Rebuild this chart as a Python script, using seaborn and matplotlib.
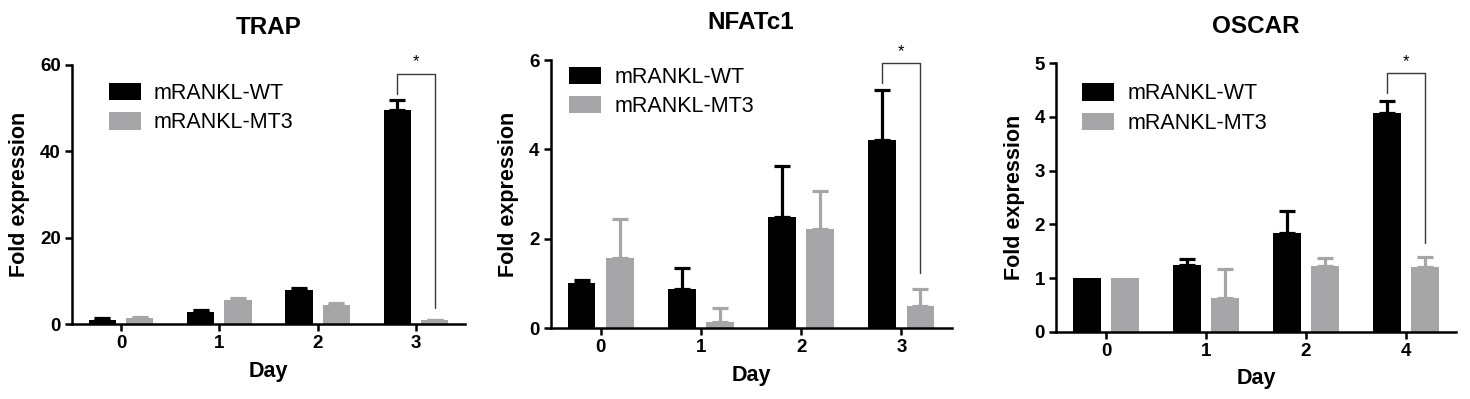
import numpy as np
import pandas as pd
import matplotlib
matplotlib.use("Agg")
import matplotlib.pyplot as plt
import seaborn as sns

# ----------------------------
# DATA
# ----------------------------

groups = ["mRANKL-WT", "mRANKL-MT3"]
colors = ["#000000", "#a6a6a8"]

titles = ["TRAP", "NFATc1", "OSCAR"]

trap_days = ["0", "1", "2", "3"]
trap_wt = [1.1, 2.9, 7.9, 49.7]
trap_wt_err = [0.3, 0.3, 0.6, 2.2]
trap_mt = [1.5, 5.6, 4.5, 0.9]
trap_mt_err = [0.1, 0.5, 0.4, 0.15]

nfat_days = ["0", "1", "2", "3"]
nfat_wt = [1.02, 0.89, 2.50, 4.20]
nfat_wt_err = [0.05, 0.45, 1.14, 1.13]
nfat_mt = [1.58, 0.15, 2.23, 0.50]
nfat_mt_err = [0.86, 0.30, 0.83, 0.37]

oscar_days = ["0", "1", "2", "4"]
oscar_wt = [1.0, 1.24, 1.84, 4.07]
oscar_wt_err = [0.0, 0.11, 0.41, 0.22]
oscar_mt = [1.0, 0.62, 1.23, 1.21]
oscar_mt_err = [0.0, 0.55, 0.14, 0.19]

y_max = [60, 6, 5]
y_ticks = [[0, 20, 40, 60], [0, 2, 4, 6], [0, 1, 2, 3, 4, 5]]

# significance bracket on last day: top, left leg end, right leg end, star
brackets = [
    (57.9, 53.2, 3.7, 60.8),
    (5.94, 5.49, 1.23, 6.19),
    (4.82, 4.44, 1.65, 5.03),
]

panels = [
    (trap_days, trap_wt, trap_wt_err, trap_mt, trap_mt_err),
    (nfat_days, nfat_wt, nfat_wt_err, nfat_mt, nfat_mt_err),
    (oscar_days, oscar_wt, oscar_wt_err, oscar_mt, oscar_mt_err),
]

# ----------------------------
# LAYOUT
# ----------------------------

sns.set_style("ticks")
plt.rcParams["font.family"] = ["Liberation Sans", "DejaVu Sans"]
plt.rcParams["text.color"] = "black"
plt.rcParams["axes.labelcolor"] = "black"
plt.rcParams["xtick.color"] = "black"
plt.rcParams["ytick.color"] = "black"

fig = plt.figure(figsize=(14.7, 3.99), dpi=100)

axes_rects = [
    [0.0490, 0.1872, 0.2674, 0.6499],
    [0.3745, 0.1772, 0.2728, 0.6724],
    [0.7184, 0.1687, 0.2721, 0.6727],
]

legend_anchor = [(0.093, 0.93), (0.046, 0.975), (0.065, 0.925)]

for i, (days, wt, wt_err, mt, mt_err) in enumerate(panels):

    ax = fig.add_axes(axes_rects[i])

    df = pd.DataFrame({
        "Day": days * 2,
        "value": wt + mt,
        "group": [groups[0]] * len(days) + [groups[1]] * len(days),
    })

    sns.barplot(
        data=df, x="Day", y="value", hue="group",
        order=days, hue_order=groups, palette=colors,
        width=0.76, gap=0.27, errorbar=None, saturation=1,
        linewidth=0, ax=ax,
    )

    # upward-only error bars with caps
    centers = []
    for container, errs, col in zip(ax.containers, [wt_err, mt_err], colors):
        xs = [b.get_x() + b.get_width() / 2 for b in container]
        hs = [b.get_height() for b in container]
        centers.append(xs)
        for x, h, e in zip(xs, hs, errs):
            if e <= 0:
                continue
            ax.errorbar(x, h, yerr=[[0], [e]], fmt="none", ecolor=col,
                        elinewidth=2.3, capsize=5.8, capthick=2.3, zorder=0.5)

    # significance bracket
    top, left_end, right_end, star_y = brackets[i]
    xl = centers[0][-1]
    xr = centers[1][-1]
    ax.plot([xl, xl, xr, xr], [left_end, top, top, right_end],
            color="#3a3a3a", lw=1.0, clip_on=False)
    ax.text((xl + xr) / 2, star_y, "*", ha="center", va="center",
            fontsize=12, clip_on=False)

    ax.set_xlim(-0.5, len(days) - 0.5)
    ax.set_ylim(0, y_max[i])
    ax.set_yticks(y_ticks[i])

    ax.set_title(titles[i], fontsize=17.5, fontweight="bold", pad=22)
    ax.set_xlabel("Day", fontsize=15.5, fontweight="bold", labelpad=6)
    ax.set_ylabel("Fold expression", fontsize=15.5, fontweight="bold", labelpad=7)

    ax.tick_params(axis="both", labelsize=13.5, width=1.8, length=5,
                   color="black", pad=3)
    for lab in ax.get_xticklabels() + ax.get_yticklabels():
        lab.set_fontweight("bold")

    sns.despine(ax=ax)
    for s in ["left", "bottom"]:
        ax.spines[s].set_linewidth(1.8)
        ax.spines[s].set_color("black")

    old = ax.get_legend()
    handles = old.legend_handles
    labels = [t.get_text() for t in old.get_texts()]
    old.remove()
    ax.legend(handles, labels, loc="upper left",
              bbox_to_anchor=legend_anchor[i], frameon=False,
              fontsize=15.5, handlelength=1.5, handleheight=0.85,
              handletextpad=0.6, labelspacing=0.38,
              borderpad=0, borderaxespad=0)

plt.savefig("out.png", dpi=100)
